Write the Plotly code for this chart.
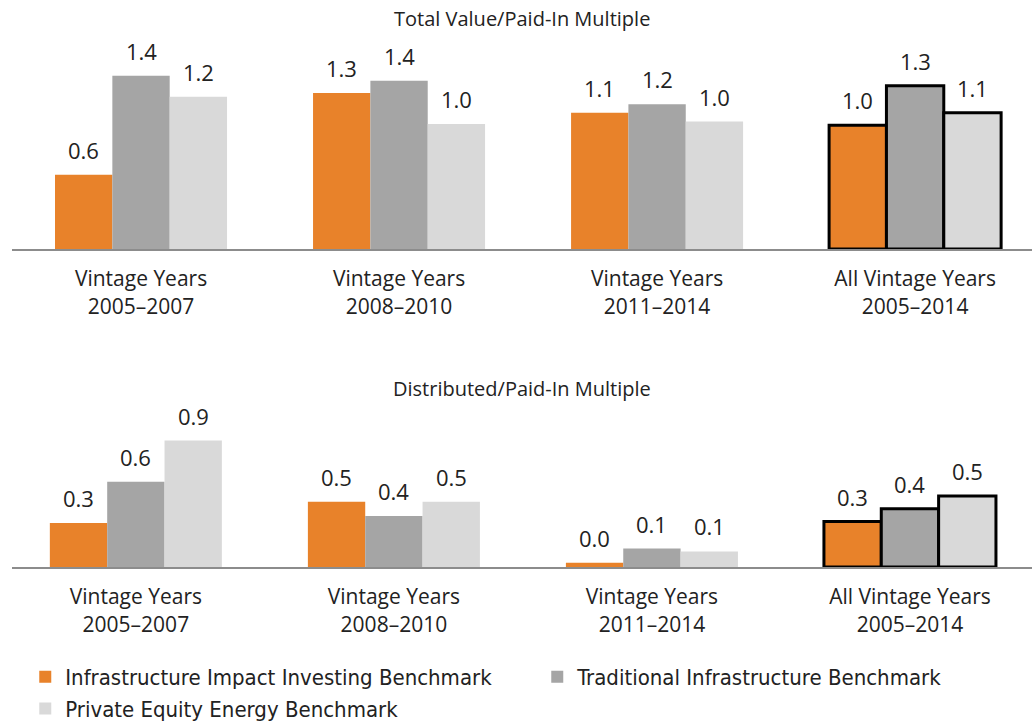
import plotly.graph_objects as go
from plotly.subplots import make_subplots

# ---------------------------------------------------------------------------
# data
# ---------------------------------------------------------------------------
categories = [
    "Vintage Years<br>2005–2007",
    "Vintage Years<br>2008–2010",
    "Vintage Years<br>2011–2014",
    "All Vintage Years<br>2005–2014",
]
series_names = [
    "Infrastructure Impact Investing Benchmark",
    "Traditional Infrastructure Benchmark",
    "Private Equity Energy Benchmark",
]
series_colors = ["#E8822A", "#A5A5A5", "#D9D9D9"]

# Total Value / Paid-In
tvpi_impact = [0.60, 1.26, 1.10, 1.00]
tvpi_traditional = [1.40, 1.36, 1.17, 1.32]
tvpi_pe_energy = [1.23, 1.01, 1.03, 1.10]

# Distributed / Paid-In
dpi_impact = [0.31, 0.46, 0.03, 0.32]
dpi_traditional = [0.60, 0.36, 0.13, 0.41]
dpi_pe_energy = [0.89, 0.46, 0.11, 0.50]

panel_titles = ["Total Value/Paid-In Multiple", "Distributed/Paid-In Multiple"]

FONT = "'Open Sans', Lato, sans-serif"
LEGEND_FONT = "'DejaVu Sans Condensed', 'Liberation Sans Narrow', sans-serif"
BARGAP = 1 / 3

# ---------------------------------------------------------------------------
fig = make_subplots(rows=2, cols=1)

panels = [
    (1, [tvpi_impact, tvpi_traditional, tvpi_pe_energy]),
    (2, [dpi_impact, dpi_traditional, dpi_pe_energy]),
]

# the "all vintage years" group gets a black outline
outline_w = [0, 0, 0, 3]
outline_c = ["rgba(0,0,0,0)"] * 3 + ["#000000"]

bar_w = (1 - BARGAP) / 3
for row, series in panels:
    for i, (name, color, vals) in enumerate(zip(series_names, series_colors, series)):
        fig.add_trace(
            go.Bar(
                x=categories,
                y=vals,
                name=name,
                marker=dict(color=color, line=dict(color=outline_c, width=outline_w)),
                showlegend=(row == 1),
                hoverinfo="skip",
            ),
            row=row, col=1,
        )
        # value labels floating above each bar
        offset = (i - 1) * bar_w
        for j, v in enumerate(vals):
            fig.add_annotation(
                x=j + offset, y=v, text=f"{v:.1f}",
                xref="x" if row == 1 else "x2",
                yref="y" if row == 1 else "y2",
                showarrow=False, yshift=25,
                font=dict(size=22, color="#222222", family=FONT),
            )

# panel titles
for y, t in zip([1 - 18 / 727, 1 - 388 / 727], panel_titles):
    fig.add_annotation(
        x=0.5, y=y, xref="paper", yref="paper", text=t, showarrow=False,
        yanchor="middle", font=dict(size=20, color="#222222", family=FONT),
    )

axis_x = dict(
    showline=True, linecolor="#8C8C8C", linewidth=2, showgrid=False,
    ticks="", ticklabelstandoff=10,
    tickfont=dict(size=21, color="#222222", family=FONT),
    range=[-0.5, 3.453],
)
fig.update_xaxes(**axis_x)
fig.update_xaxes(range=[-0.48, 3.473], row=2, col=1)
fig.update_yaxes(visible=False, showgrid=False, zeroline=False)
fig.update_yaxes(range=[0, 1.6], domain=[(727 - 249) / 727, (727 - 51) / 727], row=1, col=1)
fig.update_yaxes(range=[0, 1.0], domain=[(727 - 567) / 727, (727 - 425) / 727], row=2, col=1)

fig.update_layout(
    width=1032, height=727,
    margin=dict(l=12, r=0, t=0, b=0, autoexpand=False),
    barmode="group", bargap=BARGAP, bargroupgap=0,
    plot_bgcolor="white", paper_bgcolor="white",
    font=dict(family=FONT, color="#222222"),
    legend=dict(
        orientation="h", x=0.013, y=(727 - 656) / 727, yanchor="top", xanchor="left",
        entrywidth=467, entrywidthmode="pixels",
        font=dict(size=22, family=LEGEND_FONT, color="#222222"),
        itemsizing="constant",
    ),
)

fig.write_html(
    "out.html",
    config={"displayModeBar": False},
    post_script="document.body.style.margin='0';",
)
